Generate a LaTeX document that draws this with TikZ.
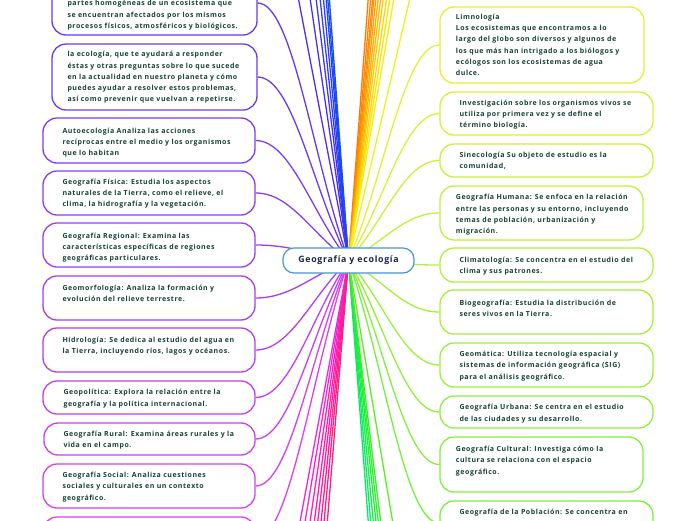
\documentclass[tikz,border=0pt]{standalone}
\usepackage{fontspec}
\setmainfont{Open Sans}[LetterSpace=8]
\usetikzlibrary{calc,backgrounds}
\definecolor{txtc}{RGB}{22,66,52}
\definecolor{ctext}{RGB}{25,40,72}
\definecolor{cc}{RGB}{70,150,215}
\definecolor{cL1}{RGB}{100,58,240}
\definecolor{cL2}{RGB}{108,58,240}
\definecolor{cL3}{RGB}{125,60,240}
\definecolor{cL4}{RGB}{140,60,240}
\definecolor{cL5}{RGB}{152,62,240}
\definecolor{cL6}{RGB}{165,62,240}
\definecolor{cL7}{RGB}{178,62,240}
\definecolor{cL8}{RGB}{190,62,240}
\definecolor{cL9}{RGB}{202,62,240}
\definecolor{cL10}{RGB}{214,62,240}
\definecolor{cL11}{RGB}{224,62,236}
\definecolor{cR1}{RGB}{228,240,50}
\definecolor{cR2}{RGB}{216,240,55}
\definecolor{cR3}{RGB}{202,240,58}
\definecolor{cR4}{RGB}{192,240,58}
\definecolor{cR5}{RGB}{178,240,58}
\definecolor{cR6}{RGB}{166,240,58}
\definecolor{cR7}{RGB}{154,240,58}
\definecolor{cR8}{RGB}{142,240,58}
\definecolor{cR9}{RGB}{130,240,58}
\definecolor{cR10}{RGB}{118,240,58}
\begin{document}
\begin{tikzpicture}[x=1pt,y=-1pt,
  box/.style={draw, line width=1.3pt, fill=white, rounded corners=14pt, inner sep=0pt},
  txt/.style={anchor=north west, inner sep=0pt, align=left, text=txtc, font=\fontsize{7}{11.25}\selectfont\bfseries},
  link/.style={line width=1.3pt},
]
\useasboundingbox (0,0) rectangle (696,520);
\clip (0,0) rectangle (696,520);

% center
\node[draw=cc, fill=white, line width=1.2pt, rounded corners=11pt, minimum width=131, minimum height=25, inner sep=0pt,
  font=\fontsize{8.8}{11}\selectfont\bfseries, text=ctext] (center) at (348.5,260.5) {Geografía y ecología};

% left boxes
\node[box, draw=cL1, minimum width=205, minimum height=64] (L1) at (154.5,3) {};
\node[box, draw=cL2, minimum width=205, minimum height=66] (L2) at (154.5,77) {};
\node[box, draw=cL3, minimum width=212, minimum height=45] (L3) at (149,140.5) {};
\node[box, draw=cL4, minimum width=212, minimum height=44] (L4) at (149,193) {};
\node[box, draw=cL5, minimum width=212, minimum height=44] (L5) at (149,245) {};
\node[box, draw=cL6, minimum width=212, minimum height=44] (L6) at (149,298) {};
\node[box, draw=cL7, minimum width=212, minimum height=44] (L7) at (149,350) {};
\node[box, draw=cL8, minimum width=212, minimum height=33] (L8) at (149,397.5) {};
\node[box, draw=cL9, minimum width=211, minimum height=32] (L9) at (149.5,439) {};
\node[box, draw=cL10, minimum width=212, minimum height=44] (L10) at (149,486) {};
\node[box, draw=cL11, minimum width=212, minimum height=44] (L11) at (149,539) {};

% right boxes
\node[box, draw=cR1, minimum width=204, minimum height=76] (R1) at (542,45) {};
\node[box, draw=cR2, minimum width=213, minimum height=43] (R2) at (546.5,113.5) {};
\node[box, draw=cR3, minimum width=213, minimum height=33] (R3) at (546.5,160.5) {};
\node[box, draw=cR4, minimum width=203, minimum height=54] (R4) at (541.5,213) {};
\node[box, draw=cR5, minimum width=213, minimum height=34] (R5) at (546.5,265) {};
\node[box, draw=cR6, minimum width=213, minimum height=44] (R6) at (546.5,312) {};
\node[box, draw=cR7, minimum width=213, minimum height=44] (R7) at (546.5,365) {};
\node[box, draw=cR8, minimum width=213, minimum height=32] (R8) at (546.5,412) {};
\node[box, draw=cR9, minimum width=203, minimum height=55] (R9) at (541.5,464.5) {};
\node[box, draw=cR10, minimum width=213, minimum height=44] (R10) at (546.5,523) {};

% texts left
\node[txt] (tL1) at (67.3,-2.1) {\strut partes homogéneas de un ecosistema que\\se encuentran afectados por los mismos\\procesos físicos, atmosféricos y biológicos.};
\node[txt] (tL2) at (67.3,48.9) {\strut la ecología, que te ayudará a responder\\éstas y otras preguntas sobre lo que sucede\\en la actualidad en nuestro planeta y cómo\\puedes ayudar a resolver estos problemas,\\así como prevenir que vuelvan a repetirse.};
\node[txt] (tL3) at (62.3,125.3) {\strut Autoecología Analiza las acciones\\recíprocas entre el medio y los organismos\\que lo habitan};
\node[txt] (tL4) at (62.3,176.3) {\strut Geografía Física: Estudia los aspectos\\naturales de la Tierra, como el relieve, el\\clima, la hidrografía y la vegetación.};
\node[txt] (tL5) at (62.3,230.3) {\strut Geografía Regional: Examina las\\características específicas de regiones\\geográficas particulares.};
\node[txt] (tL6) at (62.3,282.3) {\strut Geomorfología: Analiza la formación y\\evolución del relieve terrestre.};
\node[txt] (tL7) at (62.3,334.6) {\strut Hidrología: Se dedica al estudio del agua en\\la Tierra, incluyendo ríos, lagos y océanos.};
\node[txt] (tL8) at (63.3,386.9) {\strut Geopolítica: Explora la relación entre la\\geografía y la política internacional.};
\node[txt] (tL9) at (63.3,428.6) {\strut Geografía Rural: Examina áreas rurales y la\\vida en el campo.};
\node[txt] (tL10) at (62.3,469.6) {\strut Geografía Social: Analiza cuestiones\\sociales y culturales en un contexto\\geográfico.};

% texts right
\node[txt] (tR1) at (455.7,11.3) {\strut Limnología\\Los ecosistemas que encontramos a lo\\largo del globo son diversos y algunos de\\los que más han intrigado a los biólogos y\\ecólogos son los ecosistemas de agua\\dulce.};
\node[txt] (tR2) at (459.3,97.3) {\strut Investigación sobre los organismos vivos se\\utiliza por primera vez y se define el\\término biología.};
\node[txt] (tR3) at (459.3,149.6) {\strut Sinecología Su objeto de estudio es la\\comunidad,};
\node[txt] (tR4) at (455.7,191.9) {\strut Geografía Humana: Se enfoca en la relación\\entre las personas y su entorno, incluyendo\\temas de población, urbanización y\\migración.};
\node[txt] (tR5) at (459.3,254.6) {\strut Climatología: Se concentra en el estudio del\\clima y sus patrones.};
\node[txt] (tR6) at (459.3,297.3) {\strut Biogeografía: Estudia la distribución de\\seres vivos en la Tierra.};
\node[txt] (tR7) at (459.3,348.6) {\strut Geomática: Utiliza tecnología espacial y\\sistemas de información geográfica (SIG)\\para el análisis geográfico.};
\node[txt] (tR8) at (459.3,401.9) {\strut Geografía Urbana: Se centra en el estudio\\de las ciudades y su desarrollo.};
\node[txt] (tR9) at (455.7,443.6) {\strut Geografía Cultural: Investiga cómo la\\cultura se relaciona con el espacio\\geográfico.};
\node[txt] (tR10) at (459.3,506.9) {\strut Geografía de la Población: Se concentra en};

\begin{scope}[on background layer]
  \foreach \n in {L1,L2,L3,L4,L5,L6,L7,L8,L9,L10,L11}
    \draw[link, draw=c\n] (\n.east) .. controls +(35,0) and ($(\n.east)!0.6!(center.center)$) .. (center.center);
  \foreach \n in {R1,R2,R3,R4,R5,R6,R7,R8,R9,R10}
    \draw[link, draw=c\n] (\n.west) .. controls +(-35,0) and ($(\n.west)!0.6!(center.center)$) .. (center.center);
  % branches leaving the view at the top
  \foreach \x/\r/\g/\b [count=\i] in {298.3/85/45/240, 310/72/50/240, 316/62/55/242, 320/52/60/244, 323.3/42/64/245, 326/32/68/245, 327.7/26/72/245, 329.3/20/76/245,
      368.3/255/120/0, 370.7/255/130/0, 372.7/255/140/0, 374/255/150/0, 376/255/160/0, 378.3/255/172/0, 380.7/255/186/0, 383.3/255/200/0, 386.7/255/214/0, 390/250/228/0, 394/245/238/10, 410/236/245/25}
  {
    \definecolor{tmpc}{RGB}{\r,\g,\b}
    \coordinate (ot\i) at (\x,-2);
    \draw[link, draw=tmpc] (center.center) -- (ot\i);
  }
  % branches leaving the view at the bottom
  \foreach \x/\r/\g/\b [count=\i] in {300/235/40/225, 305/245/35/210, 310/250/30/195, 314.3/255/30/180, 317.7/255/30/165, 321/255/30/150, 324/255/30/135, 327.3/255/30/120,
      368.3/0/235/110, 370.7/10/238/90, 373.3/20/240/70, 376/30/240/55, 378.3/40/240/45, 380.7/55/240/35, 392.7/90/240/30}
  {
    \definecolor{tmpc}{RGB}{\r,\g,\b}
    \coordinate (ob\i) at (\x,522);
    \draw[link, draw=tmpc] (center.center) -- (ob\i);
  }
\end{scope}
\end{tikzpicture}
\end{document}
